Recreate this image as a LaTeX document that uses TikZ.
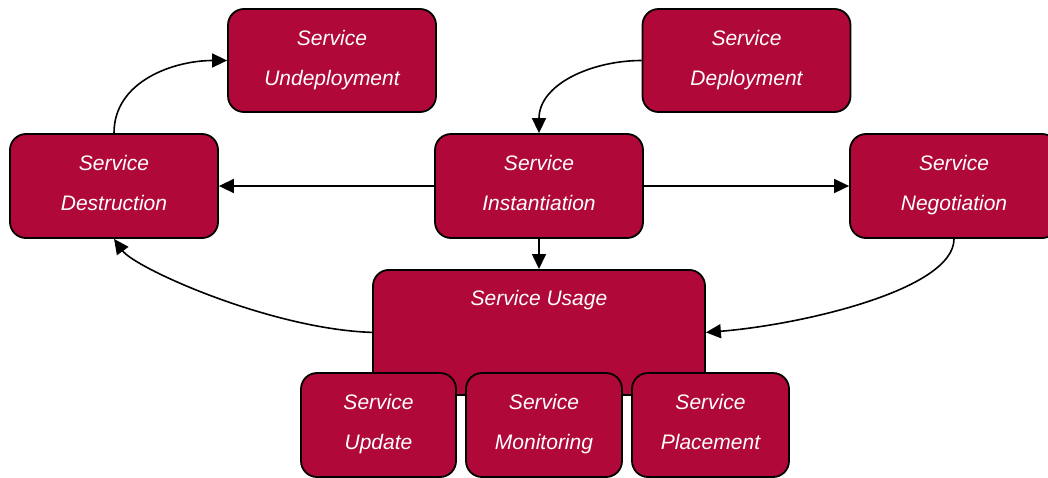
\documentclass[tikz,border=0pt]{standalone}
\usepackage{fontspec}
\setmainfont{Liberation Sans}
\usetikzlibrary{arrows.meta}
\definecolor{boxred}{HTML}{B00838}
\begin{document}
\begin{tikzpicture}[x=1pt,y=-1pt,
  box/.style={draw=black,line width=1.8pt,fill=boxred,rounded corners=16pt,
    text=white,font=\fontsize{21}{40}\selectfont\itshape,align=center,inner sep=0pt},
  twoline/.style={box,text depth=6pt},
  conn/.style={line width=1.6pt,-{Triangle[length=15pt,width=14pt]}}]
\useasboundingbox (0,0) rectangle (1048,477);
\node[twoline,minimum width=208pt,minimum height=103pt] (und) at (332,60.5) {Service\\Undeployment};
\node[twoline,minimum width=208pt,minimum height=103pt] (dep) at (746.5,60.5) {Service\\Deployment};
\node[twoline,minimum width=208pt,minimum height=104pt] (des) at (114,186) {Service\\Destruction};
\node[twoline,minimum width=208pt,minimum height=104pt] (inst) at (539,186) {Service\\Instantiation};
\node[twoline,minimum width=208pt,minimum height=104pt] (neg) at (954,186) {Service\\Negotiation};
\node[box,minimum width=332pt,minimum height=125pt,text height=29pt,text depth=82pt,anchor=north,inner ysep=7pt] (use) at (539,269) {Service Usage};
\node[twoline,minimum width=155pt,minimum height=104pt] (upd) at (378.5,425) {Service\\Update};
\node[twoline,minimum width=156pt,minimum height=104pt] (mon) at (544,425) {Service\\Monitoring};
\node[twoline,minimum width=157pt,minimum height=104pt] (pla) at (710.5,425) {Service\\Placement};
\draw[conn] (des.north) to[out=90,in=180] (und.west);
\draw[conn] (dep.west) to[out=180,in=90] (inst.north);
\draw[conn] (inst.west) -- (des.east);
\draw[conn] (inst.east) -- (neg.west);
\draw[conn] (inst.south) -- (use.north);
\draw[conn] (neg.south) .. controls (954,290) and (800,325) .. (use.east);
\draw[conn] (use.west) .. controls (270,329) and (135,268) .. (des.south);
\end{tikzpicture}
\end{document}
